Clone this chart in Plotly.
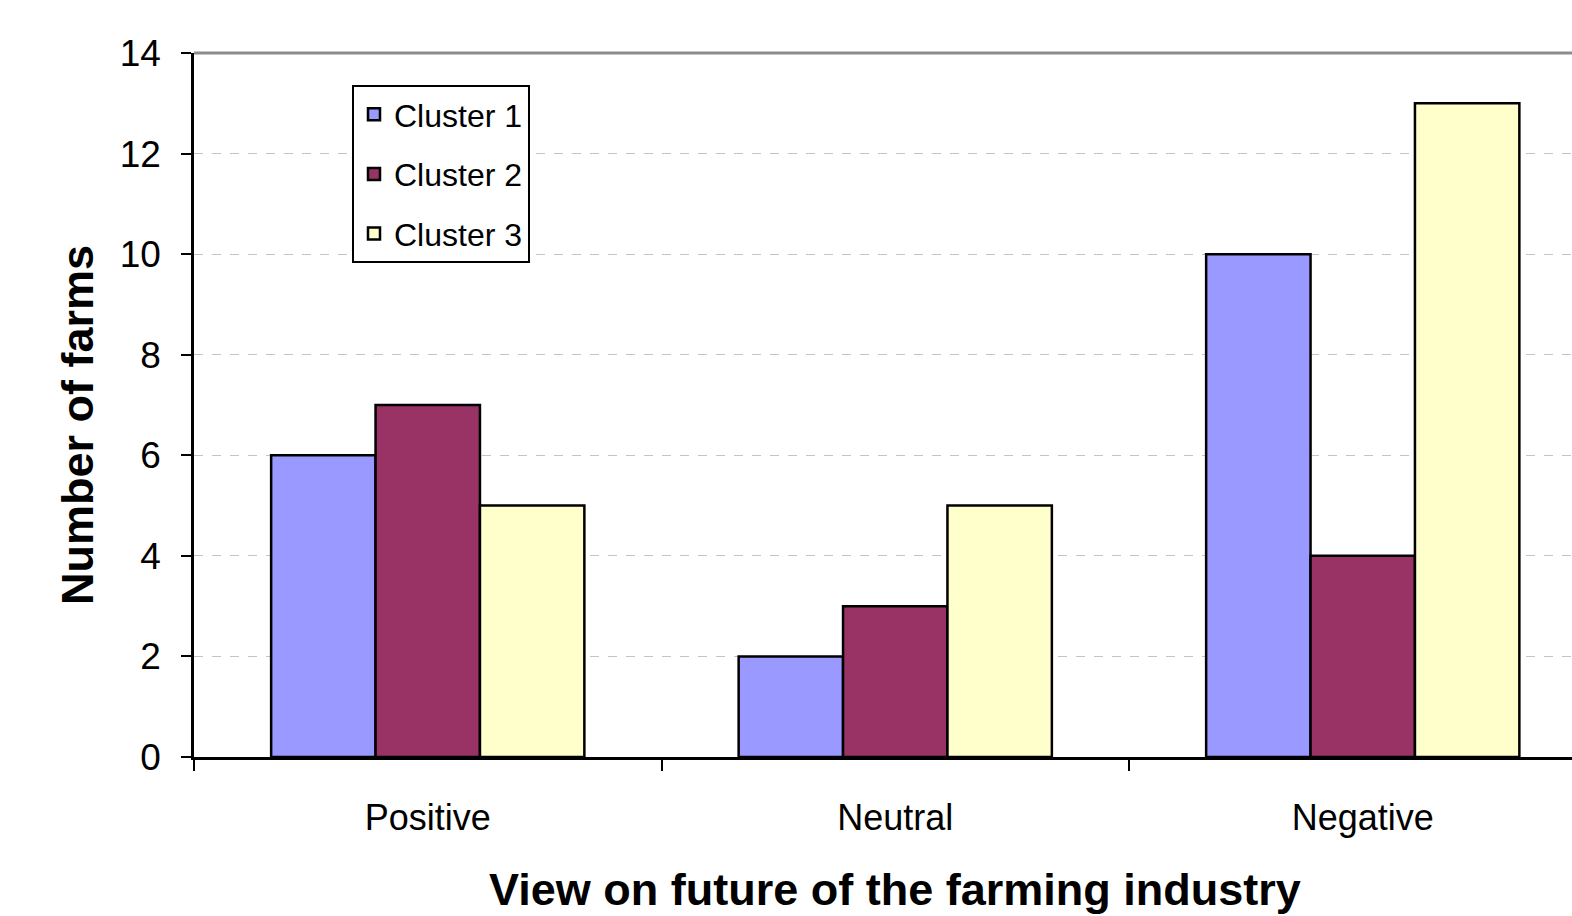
import plotly.graph_objects as go

# Survey responses: number of farms per outlook, by cluster
categories = ["Positive", "Neutral", "Negative"]
cluster1 = [6, 2, 10]
cluster2 = [7, 3, 4]
cluster3 = [5, 5, 13]
series_names = ["Cluster 1", "Cluster 2", "Cluster 3"]
series_colors = ["#9999FF", "#993366", "#FFFFCC"]
y_ticks = [0, 2, 4, 6, 8, 10, 12, 14]

FONT = "Liberation Sans, Arial, sans-serif"

fig = go.Figure()
for name, vals, color in zip(series_names, [cluster1, cluster2, cluster3], series_colors):
    fig.add_trace(go.Bar(
        name=name,
        x=categories,
        y=vals,
        marker=dict(color=color, line=dict(color="black", width=2.5)),
        legendgroup=name,
    ))

W, H = 1572, 916
left, top, bottom = 194, 53, 159
plot_w = W - left
plot_h = H - top - bottom

def px_x(px):
    return (px - left) / plot_w

def px_y(py):
    return (H - bottom - py) / plot_h

# the category axis runs past the right edge of the page
cat_px = 467.5
x_right = -0.5 + plot_w / cat_px

fig.update_layout(
    width=W, height=H,
    margin=dict(l=left, r=0, t=top, b=bottom, pad=0),
    paper_bgcolor="white",
    plot_bgcolor="white",
    barmode="group",
    bargap=0.33,
    bargroupgap=0,
    font=dict(family=FONT, color="black"),
    showlegend=True,
    legend=dict(
        x=px_x(352), y=px_y(85), xanchor="left", yanchor="top",
        bgcolor="white", bordercolor="black", borderwidth=2,
        font=dict(family=FONT, size=32, color="black"),
        tracegroupgap=15,
        traceorder="grouped",
        itemwidth=30,
    ),
    xaxis=dict(
        type="category",
        range=[-0.5, x_right],
        showline=True, linecolor="black", linewidth=2.5,
        ticks="outside", ticklen=11, tickwidth=2, tickcolor="black",
        tickson="boundaries",
        showgrid=False,
        tickfont=dict(family=FONT, size=36, color="black"),
        ticklabelstandoff=27,
        zeroline=False,
    ),
    yaxis=dict(
        range=[0, 14],
        tickvals=y_ticks,
        ticktext=[str(v) for v in y_ticks],
        showline=True, linecolor="black", linewidth=2.5,
        ticks="outside", ticklen=10, tickwidth=2, tickcolor="black",
        showgrid=True, gridcolor="#c4c4c4", gridwidth=1, griddash="dash",
        tickfont=dict(family=FONT, size=37, color="black"),
        ticklabelstandoff=13,
        zeroline=False,
    ),
    annotations=[
        dict(
            text="<b>Number of farms</b>",
            xref="paper", yref="paper",
            x=px_x(78), y=px_y(425),
            xanchor="center", yanchor="middle",
            textangle=-90, showarrow=False,
            font=dict(family=FONT, size=45, color="black"),
        ),
        dict(
            text="<b>View on future of the farming industry</b>",
            xref="paper", yref="paper",
            x=px_x(895), y=px_y(889),
            xanchor="center", yanchor="middle",
            showarrow=False,
            font=dict(family=FONT, size=45, color="black"),
        ),
    ],
    shapes=[
        # grey frame line along the top of the plot area
        dict(type="line", xref="paper", yref="paper",
             x0=0, x1=1, y0=1, y1=1,
             line=dict(color="#8c8c8c", width=3), layer="above"),
    ],
)

fig.write_html("out.html")
